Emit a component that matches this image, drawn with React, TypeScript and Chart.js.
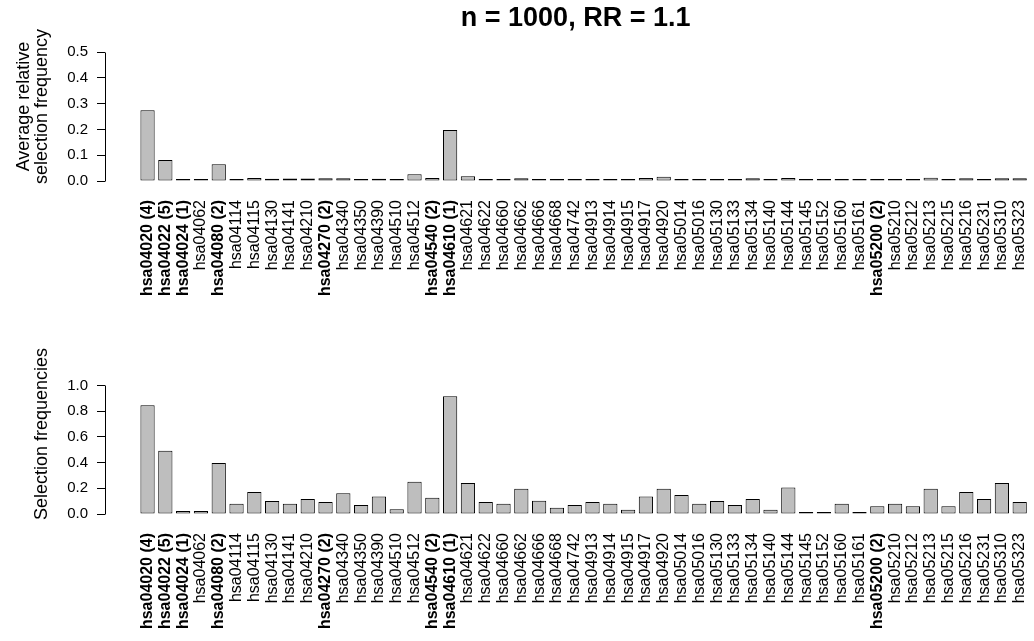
import React, { useEffect, useRef } from 'react';
import { Chart, registerables } from 'chart.js';

Chart.register(...registerables);

const pathways = [
  'hsa04020 (4)', 'hsa04022 (5)', 'hsa04024 (1)', 'hsa04062', 'hsa04080 (2)',
  'hsa04114', 'hsa04115', 'hsa04130', 'hsa04141', 'hsa04210',
  'hsa04270 (2)', 'hsa04340', 'hsa04350', 'hsa04390', 'hsa04510',
  'hsa04512', 'hsa04540 (2)', 'hsa04610 (1)', 'hsa04621', 'hsa04622',
  'hsa04660', 'hsa04662', 'hsa04666', 'hsa04668', 'hsa04742',
  'hsa04913', 'hsa04914', 'hsa04915', 'hsa04917', 'hsa04920',
  'hsa05014', 'hsa05016', 'hsa05130', 'hsa05133', 'hsa05134',
  'hsa05140', 'hsa05144', 'hsa05145', 'hsa05152', 'hsa05160',
  'hsa05161', 'hsa05200 (2)', 'hsa05210', 'hsa05212', 'hsa05213',
  'hsa05215', 'hsa05216', 'hsa05231', 'hsa05310', 'hsa05323',
];

const avgRelFreq = [
  0.274, 0.081, 0.001, 0.001, 0.065,
  0.003, 0.012, 0.009, 0.010, 0.010,
  0.011, 0.011, 0.004, 0.009, 0.005,
  0.026, 0.012, 0.198, 0.018, 0.004,
  0.005, 0.011, 0.003, 0.003, 0.003,
  0.004, 0.005, 0.003, 0.012, 0.016,
  0.005, 0.004, 0.003, 0.004, 0.011,
  0.003, 0.012, 0.002, 0.002, 0.003,
  0.002, 0.002, 0.003, 0.003, 0.013,
  0.004, 0.011, 0.003, 0.011, 0.011,
];

const selFreq = [
  0.845, 0.492, 0.023, 0.023, 0.396,
  0.080, 0.171, 0.101, 0.080, 0.117,
  0.093, 0.161, 0.070, 0.137, 0.036,
  0.251, 0.127, 0.915, 0.241, 0.093,
  0.080, 0.197, 0.104, 0.049, 0.070,
  0.093, 0.080, 0.034, 0.137, 0.197,
  0.148, 0.080, 0.101, 0.070, 0.117,
  0.034, 0.207, 0.013, 0.013, 0.080,
  0.013, 0.060, 0.080, 0.060, 0.197,
  0.060, 0.171, 0.117, 0.241, 0.093,
];

const topTicks = [0, 0.1, 0.2, 0.3, 0.4, 0.5];
const bottomTicks = [0, 0.2, 0.4, 0.6, 0.8, 1.0];

const titleText = 'n = 1000, RR = 1.1';
const topAxisTitle = ['Average relative', 'selection frequency'];
const bottomAxisTitle = 'Selection frequencies';

const FONT = "'Liberation Sans', Arial, Helvetica, sans-serif";
const CANVAS_W = 1050;

const axisLinePlugin = {
  id: 'axisLine',
  afterDraw(chart: any) {
    const y = chart.scales.y;
    const ticks = y.ticks;
    if (!ticks || !ticks.length) return;
    const ctx = chart.ctx;
    const y0 = Math.round(y.getPixelForValue(ticks[0].value)) + 0.5;
    const y1 = Math.round(y.getPixelForValue(ticks[ticks.length - 1].value)) + 0.5;
    const x = Math.round(chart.chartArea.left) + 0.5;
    ctx.save();
    ctx.strokeStyle = '#000';
    ctx.lineWidth = 1;
    ctx.beginPath();
    ctx.moveTo(x, y0);
    ctx.lineTo(x, y1);
    ctx.stroke();
    ctx.restore();
  },
};

function makeConfig(opts: {
  values: number[];
  yTicks: number[];
  yMax: number;
  axisTitle: string | string[];
  axisTitlePad: number;
  xHeight: number;
  layoutTop: number;
  showTitle: boolean;
}): any {
  return {
    type: 'bar',
    data: {
      datasets: [
        {
          data: opts.values.map((v, i) => ({ x: i, y: v })),
          backgroundColor: '#bebebe',
          borderColor: '#000',
          borderWidth: 1,
          borderSkipped: false,
          categoryPercentage: 1,
          barPercentage: 0.8,
          minBarLength: 2,
        },
      ],
    },
    plugins: [axisLinePlugin],
    options: {
      animation: false,
      responsive: false,
      devicePixelRatio: 1,
      layout: { padding: { top: opts.layoutTop, left: 0, right: 0, bottom: 0 } },
      plugins: {
        legend: { display: false },
        tooltip: { enabled: false },
        title: {
          display: opts.showTitle,
          text: titleText,
          fullSize: false,
          color: '#000',
          font: { family: FONT, size: 27, weight: 'bold', lineHeight: 1.0 },
          padding: { top: 5, bottom: 0 },
        },
      },
      scales: {
        x: {
          type: 'linear',
          min: -2.39,
          max: -2.39 + (CANVAS_W - 105) / 17.87,
          offset: false,
          afterBuildTicks: (s: any) => {
            s.ticks = pathways.map((_, i) => ({ value: i }));
          },
          afterFit: (s: any) => {
            s.height = opts.xHeight;
          },
          grid: { display: false },
          border: { display: false },
          ticks: {
            autoSkip: false,
            minRotation: 90,
            maxRotation: 90,
            padding: 11,
            color: '#000',
            callback: (v: number) => pathways[Math.round(v)] ?? '',
            font: (ctx: any) => {
              const lbl = pathways[ctx.index] || '';
              return {
                family: FONT,
                size: 16,
                weight: lbl.includes('(') ? 'bold' : 'normal',
              };
            },
          },
        },
        y: {
          type: 'linear',
          min: 0,
          max: opts.yMax,
          afterBuildTicks: (s: any) => {
            s.ticks = opts.yTicks.map((v) => ({ value: v }));
          },
          afterFit: (s: any) => {
            s.width = 105;
          },
          grid: { drawOnChartArea: false, drawTicks: true, tickLength: 8, color: '#000' },
          border: { display: false },
          ticks: {
            padding: 9,
            color: '#000',
            font: { family: FONT, size: 15 },
            callback: (v: number) => Number(v).toFixed(1),
          },
          title: {
            display: true,
            text: opts.axisTitle,
            color: '#000',
            font: { family: FONT, size: 18, lineHeight: 1.0 },
            padding: { top: opts.axisTitlePad, bottom: 0 },
          },
        },
      },
    },
  };
}

export default function App() {
  const topRef = useRef<HTMLCanvasElement>(null);
  const botRef = useRef<HTMLCanvasElement>(null);

  useEffect(() => {
    const topChart = new Chart(
      topRef.current as HTMLCanvasElement,
      makeConfig({
        values: avgRelFreq,
        yTicks: topTicks,
        yMax: 0.5 * (181 - 32) / 129,
        axisTitle: topAxisTitle,
        axisTitlePad: 15,
        xHeight: 139,
        layoutTop: 0,
        showTitle: true,
      })
    );
    const botChart = new Chart(
      botRef.current as HTMLCanvasElement,
      makeConfig({
        values: selFreq,
        yTicks: bottomTicks,
        yMax: (194 - 34) / 128.6,
        axisTitle: bottomAxisTitle,
        axisTitlePad: 33,
        xHeight: 127,
        layoutTop: 34,
        showTitle: false,
      })
    );
    return () => {
      topChart.destroy();
      botChart.destroy();
    };
  }, []);

  return (
    <div
      style={{
        position: 'absolute',
        left: 0,
        top: 0,
        width: 1034,
        height: 641,
        overflow: 'hidden',
        background: '#fff',
      }}
    >
      <canvas ref={topRef} width={CANVAS_W} height={320} style={{ position: 'absolute', left: 0, top: 0, display: 'block' }} />
      <canvas ref={botRef} width={CANVAS_W} height={321} style={{ position: 'absolute', left: 0, top: 320, display: 'block' }} />
    </div>
  );
}
